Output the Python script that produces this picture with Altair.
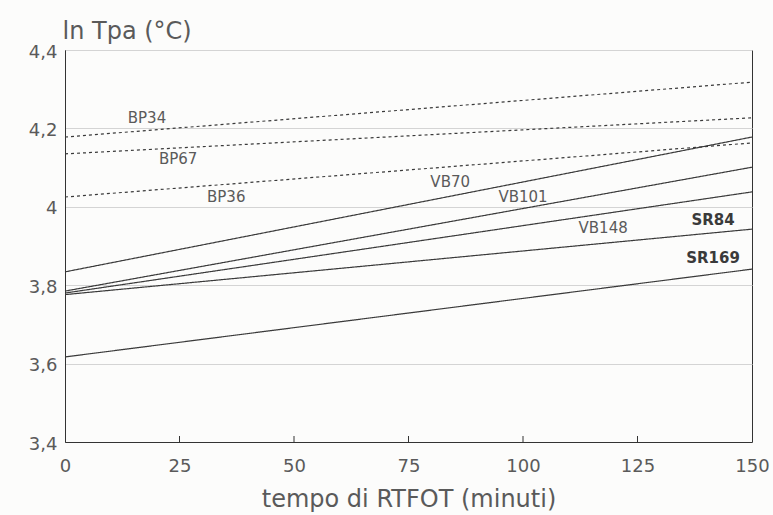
import altair as alt
import pandas as pd

series = ["BP34", "BP67", "BP36", "VB70", "VB101", "VB148", "SR84", "SR169"]
kind = ["dashed", "dashed", "dashed", "solid", "solid", "solid", "bold", "bold"]
x_start = [0, 0, 0, 0, 0, 0, 0, 0]
x_end = [150, 150, 150, 150, 150, 150, 150, 150]
y_start = [4.178, 4.135, 4.025, 3.834, 3.785, 3.780, 3.776, 3.617]
y_end = [4.318, 4.227, 4.163, 4.178, 4.101, 4.038, 3.943, 3.841]

label_x = [17.9, 24.7, 35.2, 84.1, 100.0, 117.5, 141.5, 141.5]
label_y = [4.227, 4.122, 4.025, 4.063, 4.025, 3.946, 3.966, 3.869]

x_ticks = [0, 25, 50, 75, 100, 125, 150]
y_ticks = [3.4, 3.6, 3.8, 4.0, 4.2, 4.4]

rows = []
for s, k, x0, x1, y0, y1 in zip(series, kind, x_start, x_end, y_start, y_end):
    rows.append({"serie": s, "tipo": k, "t": x0, "v": y0})
    rows.append({"serie": s, "tipo": k, "t": x1, "v": y1})
lines_df = pd.DataFrame(rows)

labels_df = pd.DataFrame({"serie": series, "tipo": kind, "t": label_x, "v": label_y})
ticks_df = pd.DataFrame({"t": x_ticks[1:-1]})

FONT = "DejaVu Sans"
TXT = "#5a5a5a"

x_scale = alt.Scale(domain=[0, 150], nice=False, zero=False)
y_scale = alt.Scale(domain=[3.4, 4.4], nice=False, zero=False)

x_enc = alt.X("t:Q", scale=x_scale,
              axis=alt.Axis(values=x_ticks, title="tempo di RTFOT (minuti)", grid=False,
                            ticks=False, labelPadding=15, labelFontSize=18,
                            labelFlush=False,
                            labelColor=TXT, labelFont=FONT,
                            titleFontSize=24, titleFont=FONT, titleFontWeight="normal",
                            titleColor=TXT, titleY=57, titleBaseline="middle",
                            domainColor="#333"))
y_enc = alt.Y("v:Q", scale=y_scale,
              axis=alt.Axis(values=y_ticks, title="ln Tpa (°C)", grid=True,
                            gridColor="#d4d4d4", gridWidth=1,
                            ticks=False, labelPadding=8, labelFontSize=18,
                            labelFlush=False, labelOffset=2,
                            labelColor=TXT, labelFont=FONT,
                            labelExpr="replace(format(datum.value, '.1~f'), '.', ',')",
                            titleAngle=0, titleAlign="left", titleBaseline="middle",
                            titleX=-3, titleY=-19, titleFontSize=24, titleFont=FONT,
                            titleFontWeight="normal", titleColor=TXT,
                            domainColor="#333"))

lines = alt.Chart(lines_df).mark_line(color="#3a3a3a").encode(
    x=x_enc,
    y=y_enc,
    detail="serie:N",
    strokeDash=alt.StrokeDash("tipo:N",
                              scale=alt.Scale(domain=["dashed", "solid", "bold"],
                                              range=[[3, 3], [1, 0], [1, 0]]),
                              legend=None),
    strokeWidth=alt.StrokeWidth("tipo:N",
                                scale=alt.Scale(domain=["dashed", "solid", "bold"],
                                                range=[1.2, 1.2, 2.0]),
                                legend=None),
)

thin_labels = alt.Chart(labels_df).transform_filter(
    "datum.tipo != 'bold'"
).mark_text(font=FONT, fontSize=15, color=TXT, align="center", baseline="middle").encode(
    x=alt.X("t:Q", scale=x_scale),
    y=alt.Y("v:Q", scale=y_scale),
    text="serie:N",
)

bold_labels = alt.Chart(labels_df).transform_filter(
    "datum.tipo == 'bold'"
).mark_text(font=FONT, fontSize=15, fontWeight="bold", color="#3a3a3a", align="center",
            baseline="middle").encode(
    x=alt.X("t:Q", scale=x_scale),
    y=alt.Y("v:Q", scale=y_scale),
    text="serie:N",
)

ticks = alt.Chart(ticks_df).mark_rule(color="#333", strokeWidth=1).encode(
    x=alt.X("t:Q", scale=x_scale),
    y=alt.value(392),
    y2=alt.value(386),
)

chart = alt.layer(lines, ticks, thin_labels, bold_labels).properties(
    width=687,
    height=392,
    autosize=alt.AutoSizeParams(type="none"),
    padding={"left": 65, "top": 50, "right": 21, "bottom": 73},
    background="#fcfcfb",
).configure_view(stroke="#333", strokeWidth=1)

chart.save("out.html", embed_options={"renderer": "svg", "actions": False})
